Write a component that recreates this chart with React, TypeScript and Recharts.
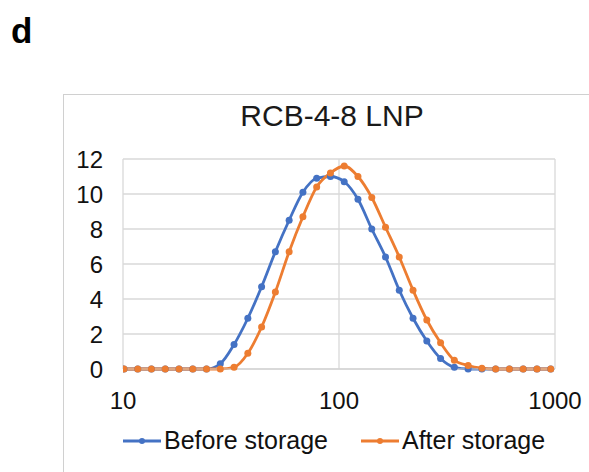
import React from 'react';
import { LineChart, Line, XAxis, YAxis, CartesianGrid } from 'recharts';

// DLS size bins (nm)
const sizes = [
  10.1, 11.7, 13.54, 15.69, 18.17, 21.04, 24.36, 28.21, 32.67, 37.84, 43.82, 50.75,
  58.77, 68.06, 78.82, 91.28, 105.7, 122.4, 141.8, 164.2, 190.1, 220.2, 255.0, 295.3,
  342.0, 396.1, 458.7, 531.2, 615.1, 712.4, 825.0, 955.4,
];
const beforeStorage = [
  0, 0, 0, 0, 0, 0, 0, 0.3, 1.4, 2.9, 4.7, 6.7,
  8.5, 10.1, 10.9, 11.0, 10.7, 9.7, 8.0, 6.4, 4.5, 2.9, 1.6, 0.6,
  0.1, 0, 0, 0, 0, 0, 0, 0,
];
const afterStorage = [
  0, 0, 0, 0, 0, 0, 0, 0, 0.1, 0.9, 2.4, 4.4,
  6.7, 8.7, 10.4, 11.2, 11.6, 11.0, 9.8, 8.1, 6.4, 4.5, 2.8, 1.5,
  0.5, 0.2, 0.05, 0, 0, 0, 0, 0,
];
const xTicks = [10, 100, 1000];
const yTicks = [0, 2, 4, 6, 8, 10, 12];

const BLUE = '#4472C4';
const ORANGE = '#ED7D31';
const FONT = '"Liberation Sans", Arial, sans-serif';

const data = sizes.map((s, i) => ({ size: s, before: beforeStorage[i], after: afterStorage[i] }));

const LegendItem: React.FC<{ color: string; label: string }> = ({ color, label }) => (
  <div style={{ display: 'flex', alignItems: 'center' }}>
    <svg width={38} height={10} style={{ marginRight: 3 }}>
      <line x1={0} y1={5} x2={38} y2={5} stroke={color} strokeWidth={2.8} />
      <circle cx={19} cy={5} r={3} fill={color} />
    </svg>
    <span>{label}</span>
  </div>
);

export default function App() {
  return (
    <div
      style={{
        position: 'absolute', left: 0, top: 0, width: 589, height: 472,
        overflow: 'hidden', background: '#fff', fontFamily: FONT, color: '#000',
      }}
    >
      <div style={{ position: 'absolute', left: 11, top: 13, fontSize: 35, lineHeight: '35px', fontWeight: 'bold' }}>
        d
      </div>
      <div
        style={{
          position: 'absolute', left: 63, top: 94, width: 580, height: 440,
          border: '1px solid #d0d0d0',
        }}
      />
      <div
        style={{
          position: 'absolute', left: 182, width: 300, top: 101, textAlign: 'center',
          fontSize: 30, lineHeight: '30px', color: '#1a1a1a',
        }}
      >
        RCB-4-8 LNP
      </div>

      <div style={{ position: 'absolute', left: 0, top: 0 }}>
        <LineChart width={589} height={472} data={data} margin={{ top: 159, right: 34, bottom: 63, left: 0 }}>
          <CartesianGrid stroke="#d9d9d9" strokeWidth={1.3} />
          <XAxis
            dataKey="size"
            type="number"
            scale="log"
            domain={[10, 1000]}
            ticks={xTicks}
            allowDataOverflow
            height={40}
            tickLine={false}
            tickSize={0}
            tickMargin={23}
            axisLine={{ stroke: '#d0d0d0' }}
            tick={{ fill: '#111', fontSize: 24, fontFamily: FONT }}
          />
          <YAxis
            domain={[0, 12]}
            ticks={yTicks}
            width={123}
            axisLine={false}
            tickLine={false}
            tickSize={0}
            tickMargin={20}
            tick={{ fill: '#111', fontSize: 24, fontFamily: FONT }}
          />
          <Line
            type="monotone"
            dataKey="before"
            stroke={BLUE}
            strokeWidth={2.8}
            dot={{ r: 3.5, fill: BLUE, stroke: BLUE, strokeWidth: 0 }}
            isAnimationActive={false}
          />
          <Line
            type="monotone"
            dataKey="after"
            stroke={ORANGE}
            strokeWidth={2.8}
            dot={{ r: 3.5, fill: ORANGE, stroke: ORANGE, strokeWidth: 0 }}
            isAnimationActive={false}
          />
        </LineChart>
      </div>

      <div
        style={{
          position: 'absolute', left: 123, top: 428, display: 'flex', gap: 0,
          fontSize: 25, lineHeight: '25px', color: '#111',
        }}
      >
        <LegendItem color={BLUE} label="Before storage" />
        <div style={{ width: 33 }} />
        <LegendItem color={ORANGE} label="After storage" />
      </div>
    </div>
  );
}
